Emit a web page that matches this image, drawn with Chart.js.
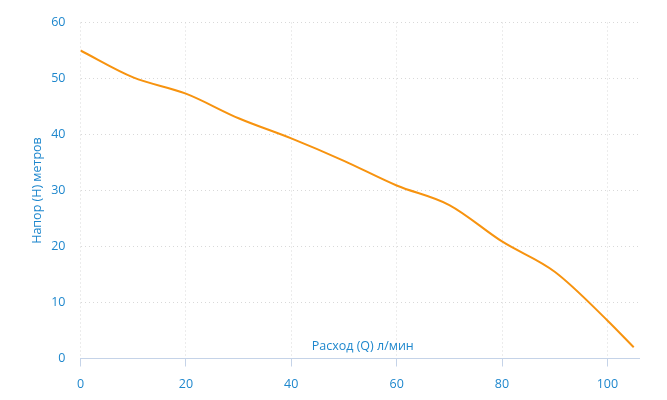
<!DOCTYPE html>
<html>
<head>
<meta charset="utf-8">
<script src="https://cdn.jsdelivr.net/npm/chart.js@4/dist/chart.umd.min.js"></script>
<style>
  html, body { margin: 0; padding: 0; background: #fff; }
  #wrap { width: 667px; height: 400px; }
</style>
</head>
<body>
<div id="wrap"><canvas id="pump-chart"></canvas></div>
<script>
// Pump curve: flow Q (l/min) vs head H (m)
const flow = [0, 10, 20, 30, 40, 50, 60, 70, 80, 90, 100, 105];
const head = [55, 50.2, 47.3, 42.9, 39.3, 35.3, 30.9, 27.4, 20.9, 15.5, 6.8, 2];
const yTicks = [0, 10, 20, 30, 40, 50, 60];
const xTitle = "Расход (Q) л/мин";
const yTitle = "Напор (H) метров";

const blue = "#1e87cd";
const gridColor = "#d9d9d9";
const axisColor = "#c5d3e8";
const font = { family: "'Open Sans', sans-serif", size: 12.5 };

// x axis title sits just above the axis line, inside the plot
const xTitlePlugin = {
  id: "xTitleInside",
  afterDraw(chart) {
    const { ctx, chartArea } = chart;
    ctx.save();
    ctx.font = "12.5px 'Open Sans', sans-serif";
    ctx.fillStyle = blue;
    ctx.textAlign = "center";
    ctx.textBaseline = "middle";
    ctx.fillText(xTitle, (chartArea.left + chartArea.right) / 2 + 3, chartArea.bottom - 12);
    ctx.restore();
  }
};

const ctx = document.getElementById("pump-chart").getContext("2d");
const pumpChart = new Chart(ctx, {
  type: "line",
  data: {
    datasets: [
      {
        data: flow.map((q, i) => ({ x: q, y: head[i] })),
        borderColor: "#f7930f",
        borderWidth: 2,
        pointRadius: 0,
        cubicInterpolationMode: "monotone",
        fill: false
      }
    ]
  },
  plugins: [xTitlePlugin],
  options: {
    responsive: true,
    maintainAspectRatio: false,
    animation: false,
    layout: { padding: { left: 30, right: 28, top: 15.5, bottom: 0 } },
    plugins: {
      legend: { display: false },
      tooltip: { enabled: false }
    },
    scales: {
      x: {
        type: "linear",
        min: 0,
        max: 106,
        afterFit: (s) => { s.height = 41.5; },
        ticks: { stepSize: 20, includeBounds: false, color: blue, font: font, padding: 10, maxRotation: 0 },
        grid: { color: gridColor, tickColor: axisColor, tickLength: 8 },
        border: { display: true, color: axisColor, dash: [1, 3] }
      },
      y: {
        min: 0,
        max: 60,
        afterFit: (s) => { s.width = 50.5; },
        afterBuildTicks: (s) => { s.ticks = yTicks.map((v) => ({ value: v })); },
        ticks: { color: blue, font: font, padding: 15 },
        grid: { color: gridColor, drawTicks: false },
        border: { display: false, dash: [1, 3] },
        title: { display: true, text: yTitle, color: blue, font: font, padding: { top: 0, bottom: 0 } }
      }
    }
  }
});
</script>
</body>
</html>
